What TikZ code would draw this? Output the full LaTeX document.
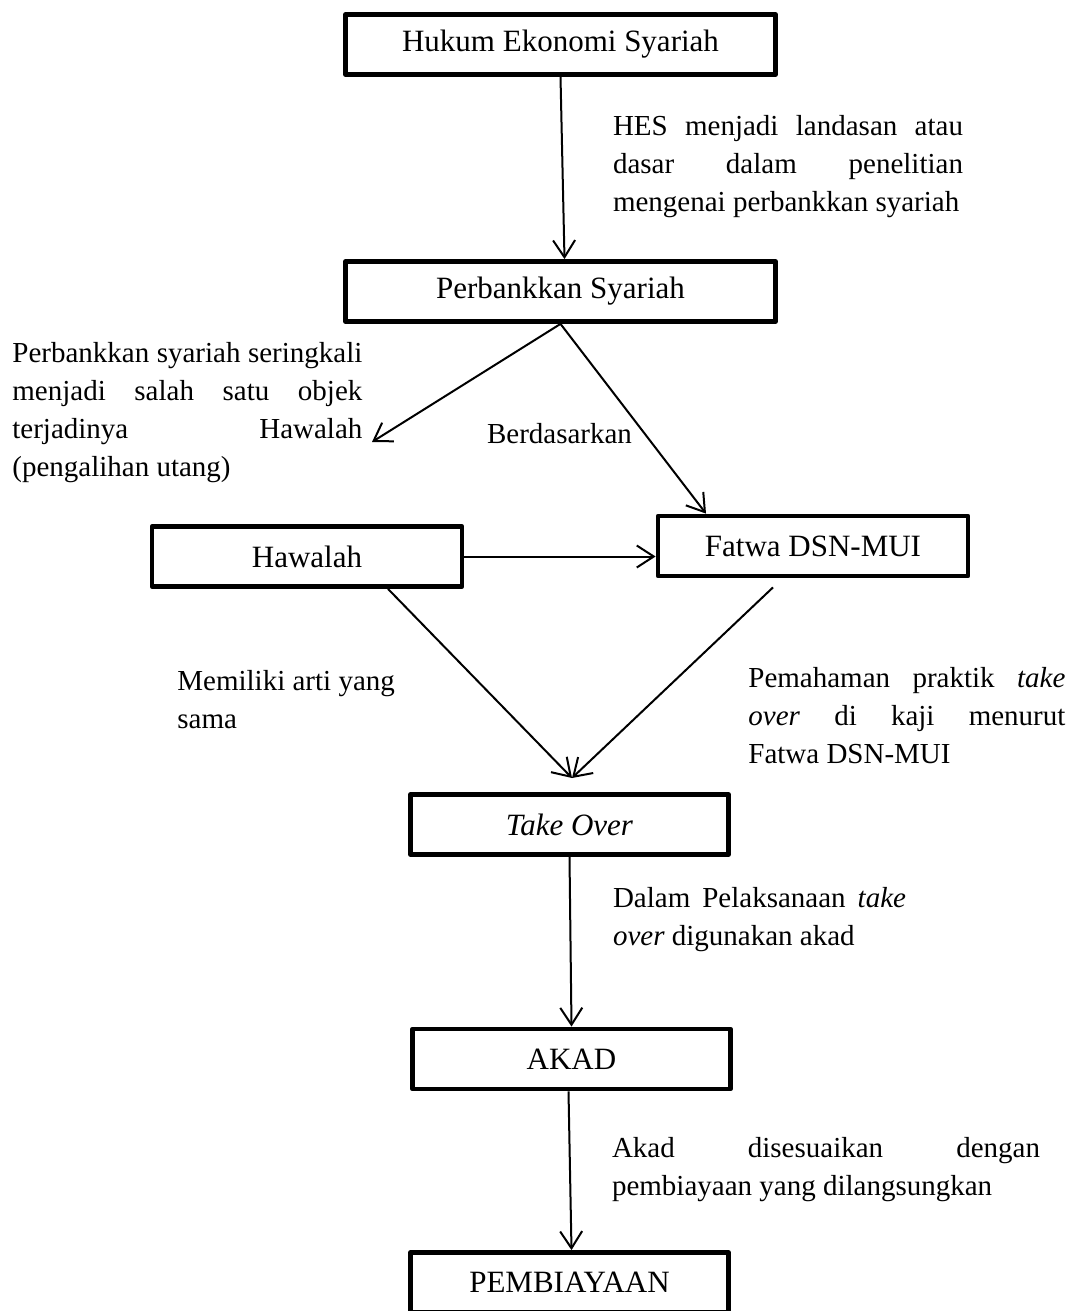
\documentclass[tikz,border=0pt]{standalone}
\usepackage{fontspec}
\setmainfont{Liberation Serif}
\usepackage{tikz}
\usetikzlibrary{arrows.meta, positioning}
\hyphenpenalty=10000
\exhyphenpenalty=10000
\tolerance=9999

\begin{document}
\begin{tikzpicture}[every node/.style={font=\fontsize{14.5}{19}\selectfont}]
% Define styles
\tikzstyle{process} = [rectangle, minimum width=159pt, minimum height=30pt, align=center, draw=black, line width=2.4pt, line join=round, font=\fontsize{15.5}{19}\selectfont]
\tikzstyle{note} = [inner sep=0pt, align=justify, anchor=west]
\tikzstyle{arrow} = [line width=1pt, -{Straight Barb[length=8.5pt,width=11pt]}]
\useasboundingbox (0,0) rectangle (539pt,-655.5pt);
% Place nodes
\node (b0) [process, minimum width=215pt] at (280.25pt,-22.25pt) {Hukum Ekonomi Syariah};
\node (b1) [process, minimum width=215pt, below of=b0, node distance=123.5pt] {Perbankkan Syariah};
\node (b2) [process, minimum width=155pt, below of=b1, xshift=-126.75pt, node distance=132.5pt] {Hawalah};
\node (b3) [process, minimum width=155pt, below of=b1, xshift=126.25pt, node distance=127.25pt] {Fatwa DSN-MUI};
\node (b4) [process, below of=b1, xshift=4.5pt, node distance=266.5pt] {\textit{Take Over}};
\node (b5) [process, below of=b4, xshift=1pt, node distance=117.25pt] {AKAD};
\node (b6) [process, below of=b5, xshift=-1pt, node distance=111.75pt] {PEMBIAYAAN};
% Side texts
\node (t1) [note, text width=175pt] at (6pt,-206.5pt) {Perbankkan syariah seringkali\linebreak menjadi salah satu objek\linebreak terjadinya Hawalah\linebreak (pengalihan utang)};
\node (t2) at (279.75pt,-217pt) {Berdasarkan};
\node (t3) [note, align=left] at (88.5pt,-350pt) {Memiliki arti yang\\sama};
\node (t4) [note, text width=158.5pt] at (374pt,-358pt) {Pemahaman praktik \textit{take}\linebreak \textit{over} di kaji menurut\linebreak Fatwa DSN-MUI};
\coordinate (hwtip) at (186pt,-221pt);
\coordinate (totip) at (286pt,-389pt);
% Draw arrows
\draw [arrow] (b0.south) -- node[note, text width=175pt, xshift=24.75pt, yshift=0.75pt] {HES menjadi landasan atau\linebreak dasar dalam penelitian\linebreak mengenai perbankkan syariah} ([xshift=2pt]b1.north);
\draw [arrow] (b1.south) -- (hwtip);
\draw [arrow] (b1.south) -- ([xshift=-53.5pt]b3.north);
\draw [arrow] (b2.east) -- (b2.east -| b3.west);
\draw [arrow] ([xshift=40.5pt]b2.south) -- (totip);
\draw [arrow] ([xshift=-20pt,yshift=-4.5pt]b3.south) -- (totip);
\draw [arrow] (b4.south) -- node[note, text width=146.5pt, xshift=20.75pt, yshift=11pt] {Dalam Pelaksanaan \textit{take}\linebreak \textit{over} digunakan akad} (b5.north);
\draw [arrow] ([xshift=-1.5pt]b5.south) -- node[note, text width=214pt, xshift=20.5pt, yshift=0.75pt] {Akad disesuaikan dengan\linebreak pembiayaan yang dilangsungkan} ([xshift=1pt]b6.north);
\end{tikzpicture}
\end{document}
